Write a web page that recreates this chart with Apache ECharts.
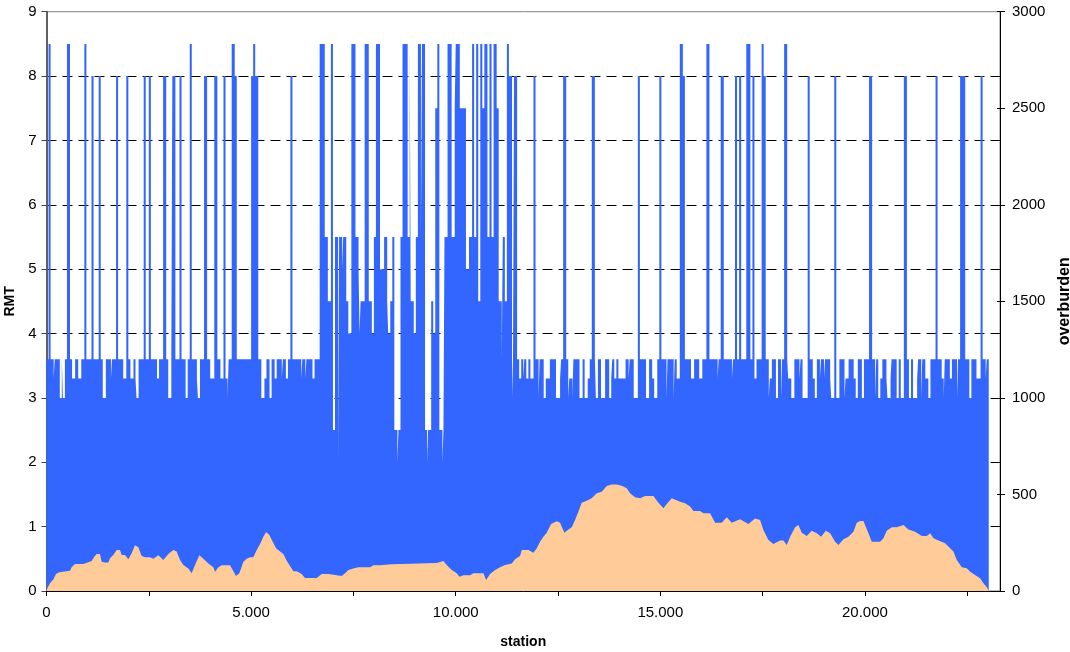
<!DOCTYPE html>
<html><head><meta charset="utf-8">
<script src="https://cdn.jsdelivr.net/npm/echarts@6/dist/echarts.min.js"></script>
<style>html,body{margin:0;padding:0;background:#fff}#c{width:1070px;height:652px}</style>
</head><body><div id="c"></div>
<script>
// RMT step profile: station where a value starts, and the value
const rmtStations = [0,50,100,175,200,325,375,400,450,500,575,625,700,775,850,925,975,1100,1150,1275,1325,1375,1450,1575,1600,1700,1750,1875,1950,2000,2050,2125,2175,2200,2250,2375,2425,2500,2550,2700,2750,2850,2925,2975,3050,3075,3150,3250,3300,3400,3450,3500,3550,3675,3700,3750,3850,3925,4000,4100,4175,4250,4325,4375,4425,4450,4525,4600,4650,5000,5050,5100,5175,5250,5325,5375,5450,5500,5575,5625,5750,5775,5850,5900,5960,6010,6225,6250,6325,6350,6500,6550,6675,6800,6875,6950,7000,7050,7125,7150,7225,7250,7325,7375,7450,7550,7625,7650,7675,7775,7875,7950,8000,8050,8150,8250,8325,8350,8400,8450,8500,8575,8600,8650,8700,8825,8875,8900,8975,9025,9075,9150,9175,9250,9300,9325,9400,9450,9500,9550,9600,9675,9700,9725,9800,9900,9975,10000,10100,10250,10325,10400,10450,10500,10550,10600,10650,10700,10775,10825,10875,10925,11000,11050,11125,11150,11200,11250,11300,11375,11400,11425,11500,11550,11600,11650,11675,11725,11775,11825,11900,11950,12025,12050,12150,12200,12300,12450,12550,12575,12625,12700,12750,12775,12850,12875,13025,13100,13150,13225,13275,13325,13400,13425,13475,13550,13650,13750,13800,13825,13875,13925,13975,14150,14225,14250,14350,14450,14500,14650,14725,14800,14850,14925,14975,15025,15150,15175,15325,15350,15400,15475,15550,15600,15750,15825,15950,16025,16125,16200,16400,16425,16475,16550,16750,16775,16825,16875,16925,16975,17100,17200,17250,17300,17350,17475,17525,17575,17650,17675,17725,17825,17875,17950,17975,18025,18100,18125,18200,18275,18400,18425,18475,18600,18650,18725,18775,18825,18900,18925,19000,19025,19150,19175,19250,19300,19375,19500,19525,19600,19725,19775,19825,19925,19975,20100,20175,20250,20275,20325,20375,20425,20525,20550,20625,20650,20775,20825,20875,20950,21025,21075,21125,21175,21275,21300,21375,21400,21475,21550,21600,21725,21775,21875,21925,21950,22075,22125,22250,22275,22325,22450,22550,22600,22725,22825,22875,22950,22975,23025];
const rmtValues = [3.6,8.5,3.6,3.3,3.6,3.0,3.6,3.0,3.6,8.5,3.6,3.3,3.6,3.3,3.6,8.5,3.6,8.0,3.6,8.0,3.6,3.0,3.6,3.3,3.6,8.0,3.6,3.3,8.0,3.6,3.3,3.6,3.3,3.0,3.6,8.0,3.6,8.0,3.6,3.3,3.6,8.0,3.6,3.0,3.6,8.0,3.6,8.0,3.6,3.0,3.6,8.5,3.6,3.3,3.0,3.6,8.0,3.6,3.3,8.0,3.6,3.3,8.0,3.3,3.0,3.6,8.5,8.0,3.6,8.0,8.5,8.0,3.6,3.0,3.3,3.6,3.0,3.6,3.3,3.6,3.3,3.6,3.3,3.6,8.0,3.6,3.3,3.6,3.3,3.6,3.3,3.6,8.5,5.5,4.5,8.5,2.5,5.5,2.0,5.5,5.0,5.5,4.5,4.0,8.5,5.5,5.0,4.0,4.5,8.5,4.5,4.0,5.5,8.5,5.0,5.5,4.5,4.0,4.5,5.5,2.5,2.0,2.5,5.5,8.5,5.5,8.5,4.5,4.0,5.5,8.5,5.5,8.5,2.5,2.0,2.5,4.5,4.0,7.5,8.5,2.5,2.0,2.5,5.5,8.5,5.5,7.5,8.5,7.5,5.0,5.5,8.5,5.5,8.5,4.5,8.5,7.5,8.5,5.5,8.5,5.5,8.5,7.5,4.5,3.6,5.5,4.5,8.5,8.0,3.0,3.6,8.0,3.6,3.3,3.6,3.3,3.6,3.3,3.6,3.3,8.0,3.6,3.0,3.6,3.0,3.3,3.6,3.0,3.3,3.6,8.0,3.6,3.0,3.3,3.0,3.6,3.0,3.6,3.0,3.3,3.6,8.0,3.6,3.0,3.6,3.0,3.6,3.0,3.3,3.6,3.3,3.6,3.3,3.6,3.3,3.6,3.0,8.0,3.6,3.0,3.6,3.3,3.0,3.6,8.0,3.6,3.0,3.6,3.0,3.6,3.3,8.5,8.0,3.6,3.3,3.6,3.3,3.6,8.5,3.6,3.3,3.6,8.0,3.6,3.3,3.6,8.0,3.6,8.0,3.6,8.5,3.6,8.0,3.3,3.6,8.5,8.0,3.6,3.0,3.3,3.6,3.0,3.6,3.0,3.6,8.5,3.6,3.3,3.0,3.6,3.3,3.6,3.0,8.0,3.6,3.3,3.0,3.6,3.3,3.6,3.3,3.6,3.3,3.0,8.0,3.0,3.6,3.0,3.3,3.6,3.3,3.0,3.6,3.0,3.6,8.0,3.6,3.0,3.6,3.0,3.3,3.6,3.3,3.0,3.3,3.6,3.0,3.6,3.0,8.0,3.6,3.0,3.6,3.0,3.3,3.6,3.0,3.6,3.3,3.0,3.6,8.0,3.6,3.3,3.0,3.6,3.3,3.6,3.0,3.6,8.0,3.6,3.0,3.6,3.3,8.0,3.6,3.3,3.6,3.6];
// overburden profile
const obStations = [0,20,85,167,232,313,574,615,696,900,1104,1169,1226,1307,1348,1430,1511,1552,1633,1715,1796,1837,1918,2000,2081,2163,2244,2326,2407,2530,2611,2733,2855,2978,3100,3181,3263,3344,3466,3548,3629,3735,3833,3955,4077,4118,4200,4281,4485,4550,4631,4713,4811,4892,4974,5055,5137,5218,5300,5365,5446,5528,5609,5707,5788,5870,5951,6033,6114,6236,6318,6603,6725,6888,6929,7214,7295,7377,7499,7621,7906,7988,8151,8192,8436,8477,9536,9577,9699,9780,9903,10025,10090,10188,10351,10391,10432,10677,10742,10839,10962,11084,11206,11369,11450,11572,11614,11776,11898,11980,12061,12142,12224,12330,12469,12550,12655,12753,12835,12916,12997,13079,13201,13323,13446,13568,13690,13812,13935,14057,14179,14260,14383,14505,14627,14830,14953,15075,15157,15279,15483,15605,15727,15808,15972,16053,16216,16338,16501,16623,16745,16949,17152,17315,17437,17518,17641,17763,17926,18007,18090,18171,18293,18374,18456,18578,18700,18823,18928,19043,19149,19271,19352,19474,19596,19719,19800,19881,19963,20085,20166,20370,20451,20533,20655,20778,20940,21062,21225,21388,21511,21593,21674,21796,21959,22081,22162,22244,22366,22488,22570,22692,22814,22896,22978,23030];
const obValues = [0,14,40,60,88,97,105,123,140,140,155,178,192,192,152,147,147,169,186,212,212,186,186,164,195,237,226,181,175,175,167,185,161,192,212,204,161,135,116,92,135,185,167,143,123,100,123,133,133,109,78,92,152,167,175,175,212,243,281,305,290,255,221,204,192,157,130,102,102,88,67,67,88,88,78,78,92,109,116,123,123,133,133,138,138,145,145,155,155,135,109,92,74,81,81,74,92,92,57,88,109,123,135,143,164,181,212,212,198,221,255,281,302,347,361,354,302,319,330,368,411,457,468,480,506,514,544,552,552,545,532,506,485,480,492,492,457,428,450,480,462,454,437,414,414,402,402,354,354,382,354,371,347,376,368,316,264,243,261,261,238,281,330,342,302,285,312,299,281,312,299,255,238,268,281,307,354,362,362,299,255,255,273,312,330,330,342,319,307,285,285,299,273,261,247,221,204,161,123,118,100,83,66,40,19,0];
const xTickValues = [0,2500,5000,7500,10000,12500,15000,17500,20000,22500];
const xLabelValues = [0,5000,10000,15000,20000];

const FONT = 'Liberation Sans';
const chart = echarts.init(document.getElementById('c'), null, {renderer: 'canvas'});
chart.setOption({
  animation: false,
  backgroundColor: '#fff',
  grid: {left: 46.5, right: 70, top: 11.7, bottom: 61, outerBoundsMode: 'none', containLabel: false,
    show: true, borderColor: '#808080', borderWidth: 1, backgroundColor: 'transparent'},
  xAxis: {
    type: 'value', min: 0, max: 23300,
    name: 'station', nameLocation: 'middle', nameGap: 44,
    nameTextStyle: {fontFamily: FONT, fontWeight: 'bold', fontSize: 14, color: '#000'},
    axisLine: {show: true, onZero: false, lineStyle: {color: '#000', width: 1}},
    axisTick: {show: true, length: 5, lineStyle: {color: '#000'}, customValues: xTickValues},
    axisLabel: {customValues: xLabelValues, fontFamily: FONT, fontSize: 15, color: '#000', margin: 14,
      formatter: v => v === 0 ? '0' : (v / 1000).toFixed(3)},
    splitLine: {show: false}
  },
  yAxis: [{
    type: 'value', min: 0, max: 9, interval: 1, position: 'left',
    name: 'RMT', nameLocation: 'middle', nameGap: 28,
    nameTextStyle: {fontFamily: FONT, fontWeight: 'bold', fontSize: 14, color: '#000'},
    axisLine: {show: true, lineStyle: {color: '#606060', width: 2}},
    axisTick: {show: true, length: 5, lineStyle: {color: '#404040'}},
    axisLabel: {fontFamily: FONT, fontSize: 15, color: '#000', margin: 10},
    splitLine: {show: true, showMinLine: false, showMaxLine: false, lineStyle: {color: '#000', width: 1, type: [10, 6]}}
  }, {
    type: 'value', min: 0, max: 3000, interval: 500, position: 'right',
    name: 'overburden', nameLocation: 'middle', nameGap: 57,
    nameTextStyle: {fontFamily: FONT, fontWeight: 'bold', fontSize: 16, color: '#000'},
    axisLine: {show: true, lineStyle: {color: '#000', width: 1}},
    axisTick: {show: true, length: 5, lineStyle: {color: '#000'}},
    axisLabel: {fontFamily: FONT, fontSize: 15, color: '#000', margin: 12, formatter: v => String(v)},
    splitLine: {show: false}
  }, {
    type: 'value', min: 0, max: 3000, interval: 500, position: 'right',
    axisLine: {show: false},
    axisTick: {show: true, inside: true, length: 3, lineStyle: {color: '#000'}},
    axisLabel: {show: false},
    splitLine: {show: false}
  }],
  series: [{
    name: 'RMT', type: 'line', step: 'end', yAxisIndex: 0,
    data: rmtStations.map((s, i) => [s, rmtValues[i]]),
    symbol: 'none', showSymbol: false, silent: true,
    lineStyle: {opacity: 0, width: 0},
    areaStyle: {color: '#3366FF', opacity: 1}
  }, {
    name: 'overburden', type: 'line', yAxisIndex: 1,
    data: obStations.map((s, i) => [s, obValues[i]]),
    symbol: 'none', showSymbol: false, silent: true,
    lineStyle: {opacity: 0, width: 0},
    areaStyle: {color: '#FFCC99', opacity: 1}
  }]
});
</script>
</body></html>
